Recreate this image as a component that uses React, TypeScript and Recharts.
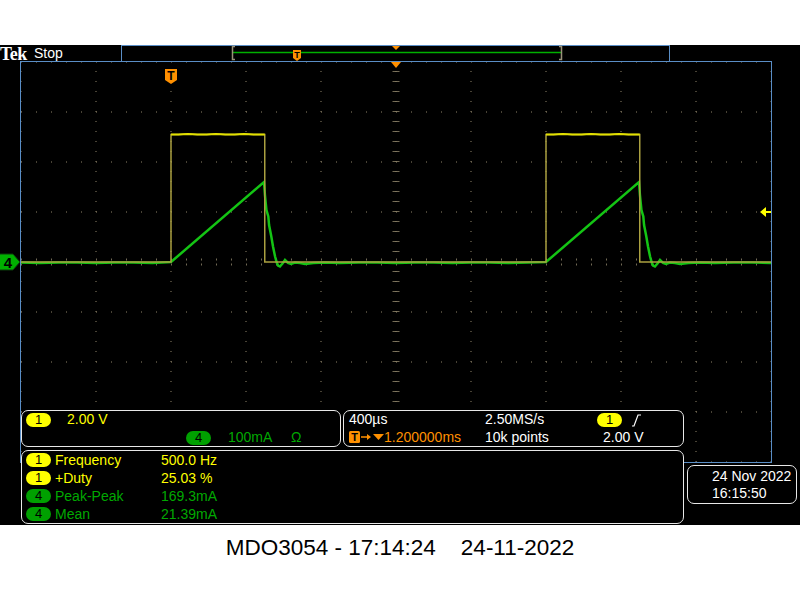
import React from 'react';
import { LineChart, Line, XAxis, YAxis, ReferenceLine, ReferenceDot } from 'recharts';

// horizontal 400µs/div, trigger at t = 0, screen spans -800 .. 3200 µs
const timeTicks = [-800, -400, 0, 400, 800, 1200, 1600, 2000, 2400, 2800, 3200];
// ch1 2.00 V/div, ground at the centre line
const voltTicks = [-8, -6, -4, -2, 0, 2, 4, 6, 8];

// channel 1 (yellow), volts
const ch1Time = [
  -800, 0, 0, 40, 90, 140, 190, 240, 290, 340, 390, 440, 490, 500, 500,
  2000, 2000, 2040, 2090, 2140, 2190, 2240, 2290, 2340, 2390, 2440, 2490, 2500, 2500, 3200,
];
const ch1Volts = [
  0, 0, 5.1, 5.1, 5.12, 5.1, 5.1, 5.12, 5.1, 5.1, 5.12, 5.1, 5.1, 5.1, 0,
  0, 5.1, 5.1, 5.12, 5.1, 5.1, 5.12, 5.1, 5.1, 5.12, 5.1, 5.1, 5.1, 0, 0,
];

// channel 4 (green), mA
const ch4Time = [
  -800, -700, -600, -500, -400, -300, -200, -100, 0,
  496, 501, 509, 519, 523, 535, 544, 555, 564, 571, 581, 597, 608, 624, 640, 661, 688, 715,
  760, 820, 900, 1000, 1100, 1200, 1300, 1400, 1500, 1600, 1700, 1800, 1900, 2000,
  2496, 2501, 2509, 2519, 2523, 2535, 2544, 2555, 2564, 2571, 2581, 2597, 2608, 2624, 2640, 2661, 2688, 2715,
  2760, 2820, 2900, 3000, 3100, 3200,
];
const ch4mA = [
  -1, -2, -1, -1, -2, -1, -1, -2, 0,
  160, 134, 104, 91, 74, 51, 31, 11, -1, -7, -9, -2, 4, -2, -4, -1, -2, -4,
  -2, -1, -2, -1, -1, -2, -1, -1, -2, -1, -1, -2, -1, 0,
  160, 134, 104, 91, 74, 51, 31, 11, -1, -7, -9, -2, 4, -2, -4, -1, -2, -4,
  -2, -1, -2, -1, -1, -2,
];

const ch1Data = ch1Time.map((t, i) => ({ t, v: ch1Volts[i], top: ch1Volts[i] > 2.5 ? ch1Volts[i] : null }));
const ch4Data = ch4Time.map((t, i) => ({ t, i: ch4mA[i] }));

const GRID = '#8f846a';
const BLUE = '#5a8ec6';
const YEL = '#ffff00';
const GRN = '#00a800';
const ORG = '#ff9000';
const FONT = '"Liberation Sans", Arial, sans-serif';

const Pill = ({ x, y, bg, label }: { x: number; y: number; bg: string; label: string }) => (
  <div style={{
    position: 'absolute', left: x, top: y, width: 25, height: 14, borderRadius: 7, background: bg,
    color: '#000', fontSize: 13, lineHeight: '14px', textAlign: 'center', fontFamily: FONT,
  }}>{label}</div>
);

const Txt = ({ x, y, color, children }: { x: number; y: number; color: string; children: React.ReactNode }) => (
  <div style={{
    position: 'absolute', left: x, top: y, color, fontSize: 14, lineHeight: '16px',
    fontFamily: FONT, whiteSpace: 'pre',
  }}>{children}</div>
);

const boxStyle = (x: number, y: number, w: number, h: number): React.CSSProperties => ({
  position: 'absolute', left: x, top: y, width: w, height: h, boxSizing: 'border-box',
  border: '1px solid #e8e8e8', borderRadius: 7, background: '#000',
});

const TriggerMark = (p: any) => (
  <g>
    <path d={`M${p.cx - 6},${p.cy + 7} h12 v11 l-6,4 l-6,-4 z`} fill={ORG} />
    <text x={p.cx} y={p.cy + 18} fill="#000" fontSize={12} fontWeight="bold" textAnchor="middle" fontFamily={FONT}>T</text>
  </g>
);

const ExpandMark = (p: any) => (
  <path d={`M${p.cx - 5},${p.cy} h10 l-5,6 z`} fill={ORG} />
);

const Ch4Mark = (p: any) => (
  <g>
    <path d={`M${p.cx - 22},${p.cy - 8} h14 l7,8 l-7,8 h-14 z`} fill="#00b000" stroke="#0a3a0a" strokeWidth={1} />
    <text x={p.cx - 13} y={p.cy + 6} fill="#000" fontSize={15} fontWeight="bold" textAnchor="middle" fontFamily={FONT}>4</text>
  </g>
);

const LevelMark = (p: any) => (
  <g>
    <path d={`M${p.cx - 11},${p.cy} l6,-5 v10 z`} fill={YEL} />
    <line x1={p.cx - 6} y1={p.cy} x2={p.cx} y2={p.cy} stroke={YEL} strokeWidth={2} />
  </g>
);

export default function App() {
  return (
    <div style={{ position: 'absolute', left: 0, top: 0, width: 800, height: 600, background: '#fff', overflow: 'hidden' }}>
      <div style={{ position: 'absolute', left: 0, top: 45, width: 800, height: 480, background: '#000', overflow: 'hidden' }}>
        <LineChart
          width={800}
          height={480}
          margin={{ top: 17, right: 29, bottom: 63, left: 21 }}
          style={{ position: 'absolute', left: 0, top: 0 }}
        >
          <XAxis type="number" dataKey="t" domain={[-800, 3200]} ticks={timeTicks} hide allowDataOverflow />
          <YAxis yAxisId="v" type="number" domain={[-8, 8]} ticks={voltTicks} hide allowDataOverflow />
          <YAxis yAxisId="ma" type="number" domain={[-400, 400]} hide allowDataOverflow />
          {timeTicks.map(t => (
            <ReferenceLine key={'vx' + t} x={t} yAxisId="v" stroke={GRID} strokeDasharray="1 9" />
          ))}
          {voltTicks.map(v => (
            <ReferenceLine key={'hy' + v} y={v} yAxisId="v" stroke={GRID} strokeDasharray="1 14" />
          ))}
          <ReferenceLine y={0} yAxisId="v" stroke={GRID} strokeWidth={7} strokeOpacity={0.8} strokeDasharray="1 14" />
          <ReferenceLine x={1200} yAxisId="v" stroke={GRID} strokeWidth={7} strokeOpacity={0.8} strokeDasharray="1 9" />
          <ReferenceLine y={0} yAxisId="v" stroke="#000" strokeWidth={3} />
          <Line yAxisId="ma" data={ch4Data} dataKey="i" type="linear" stroke="#14c414" strokeWidth={2.5}
            dot={false} isAnimationActive={false} />
          <Line yAxisId="v" data={ch1Data} dataKey="v" type="linear" stroke="#aaa040" strokeWidth={1.5}
            dot={false} isAnimationActive={false} />
          <Line yAxisId="v" data={ch1Data} dataKey="top" type="linear" stroke="#e2e000" strokeWidth={2}
            dot={false} isAnimationActive={false} />
          <ReferenceDot x={0} y={8} yAxisId="v" ifOverflow="visible" shape={TriggerMark} />
          <ReferenceDot x={1200} y={8} yAxisId="v" ifOverflow="visible" shape={ExpandMark} />
          <ReferenceDot x={-800} y={0} yAxisId="ma" ifOverflow="visible" shape={Ch4Mark} />
          <ReferenceDot x={3200} y={2} yAxisId="v" ifOverflow="visible" shape={LevelMark} />
        </LineChart>

        {/* graticule frame + record view bar */}
        <svg width={800} height={480} style={{ position: 'absolute', left: 0, top: 0 }}>
          <rect x={20.5} y={16.5} width={751} height={401} fill="none" stroke={BLUE} strokeWidth={1} />
          <rect x={121.5} y={0.5} width={548} height={16} fill="#000" stroke={BLUE} strokeWidth={1} />
          <line x1={233} y1={7.5} x2={561} y2={7.5} stroke="#00b000" strokeWidth={1.5} />
          <path d="M235,1.5 h-2.5 v13 h2.5" fill="none" stroke="#9a927a" strokeWidth={1.5} />
          <path d="M559,1.5 h2.5 v13 h-2.5" fill="none" stroke="#9a927a" strokeWidth={1.5} />
          <path d="M293,5 h8 v8 l-4,3 l-4,-3 z" fill={ORG} />
          <text x={297} y={13} fill="#000" fontSize={9} fontWeight="bold" textAnchor="middle" fontFamily={FONT}>T</text>
          <path d="M392,1 h8 l-4,4 z" fill={ORG} />
        </svg>

        <div style={{ position: 'absolute', left: 0, top: 0, color: '#fff', fontFamily: '"Liberation Serif", serif', fontWeight: 'bold', fontSize: 18, lineHeight: '19px', letterSpacing: -0.6 }}>Tek</div>
        <Txt x={34} y={0} color="#fff">Stop</Txt>

        {/* vertical readout */}
        <div style={boxStyle(21, 365, 320, 37)} />
        <Pill x={26} y={368} bg={YEL} label="1" />
        <Txt x={67} y={366} color={YEL}>2.00 V</Txt>
        <Pill x={186} y={386} bg="#00a000" label="4" />
        <Txt x={228} y={384} color={GRN}>100mA</Txt>
        <Txt x={291} y={384} color={GRN}>Ω</Txt>

        {/* horizontal / trigger readout */}
        <div style={boxStyle(343, 365, 341, 37)} />
        <Txt x={349} y={366} color="#fff">400µs</Txt>
        <Txt x={485} y={366} color="#fff">2.50MS/s</Txt>
        <Pill x={597} y={368} bg={YEL} label="1" />
        <Txt x={384} y={384} color={ORG}>1.200000ms</Txt>
        <Txt x={485} y={384} color="#fff">10k points</Txt>
        <Txt x={603} y={384} color="#fff">2.00 V</Txt>

        {/* measurements */}
        <div style={boxStyle(21, 405, 663, 74)} />
        <Pill x={26} y={408} bg={YEL} label="1" />
        <Txt x={55} y={407} color={YEL}>Frequency</Txt>
        <Txt x={161} y={407} color={YEL}>500.0 Hz</Txt>
        <Pill x={26} y={426} bg={YEL} label="1" />
        <Txt x={55} y={425} color={YEL}>+Duty</Txt>
        <Txt x={161} y={425} color={YEL}>25.03 %</Txt>
        <Pill x={26} y={444} bg="#00a000" label="4" />
        <Txt x={55} y={443} color={GRN}>Peak-Peak</Txt>
        <Txt x={161} y={443} color={GRN}>169.3mA</Txt>
        <Pill x={26} y={462} bg="#00a000" label="4" />
        <Txt x={55} y={461} color={GRN}>Mean</Txt>
        <Txt x={161} y={461} color={GRN}>21.39mA</Txt>

        {/* date / time */}
        <div style={boxStyle(687, 420, 110, 39)} />
        <Txt x={712} y={423} color="#fff">24 Nov 2022</Txt>
        <Txt x={712} y={440} color="#fff">16:15:50</Txt>

        {/* readout glyphs drawn above the boxes */}
        <svg width={800} height={480} style={{ position: 'absolute', left: 0, top: 0, pointerEvents: 'none' }}>
          <path d="M632,381 h2 l4,-11 h3" fill="none" stroke="#fff" strokeWidth={1.2} />
          <rect x={349} y={386} width={11} height={12} rx={1.5} fill={ORG} />
          <text x={354.5} y={396} fill="#000" fontSize={11} fontWeight="bold" textAnchor="middle" fontFamily={FONT}>T</text>
          <line x1={361} y1={392} x2={369} y2={392} stroke={ORG} strokeWidth={1.5} />
          <path d="M367,389 l4,3 l-4,3 z" fill={ORG} />
          <path d="M373,389 h11 l-5.5,6 z" fill={ORG} />
        </svg>
      </div>

      <div style={{
        position: 'absolute', left: 0, top: 535, width: 800, textAlign: 'center', color: '#000',
        fontFamily: FONT, fontSize: 22.5, lineHeight: '26px', whiteSpace: 'pre',
      }}>MDO3054 - 17:14:24    24-11-2022</div>
    </div>
  );
}
